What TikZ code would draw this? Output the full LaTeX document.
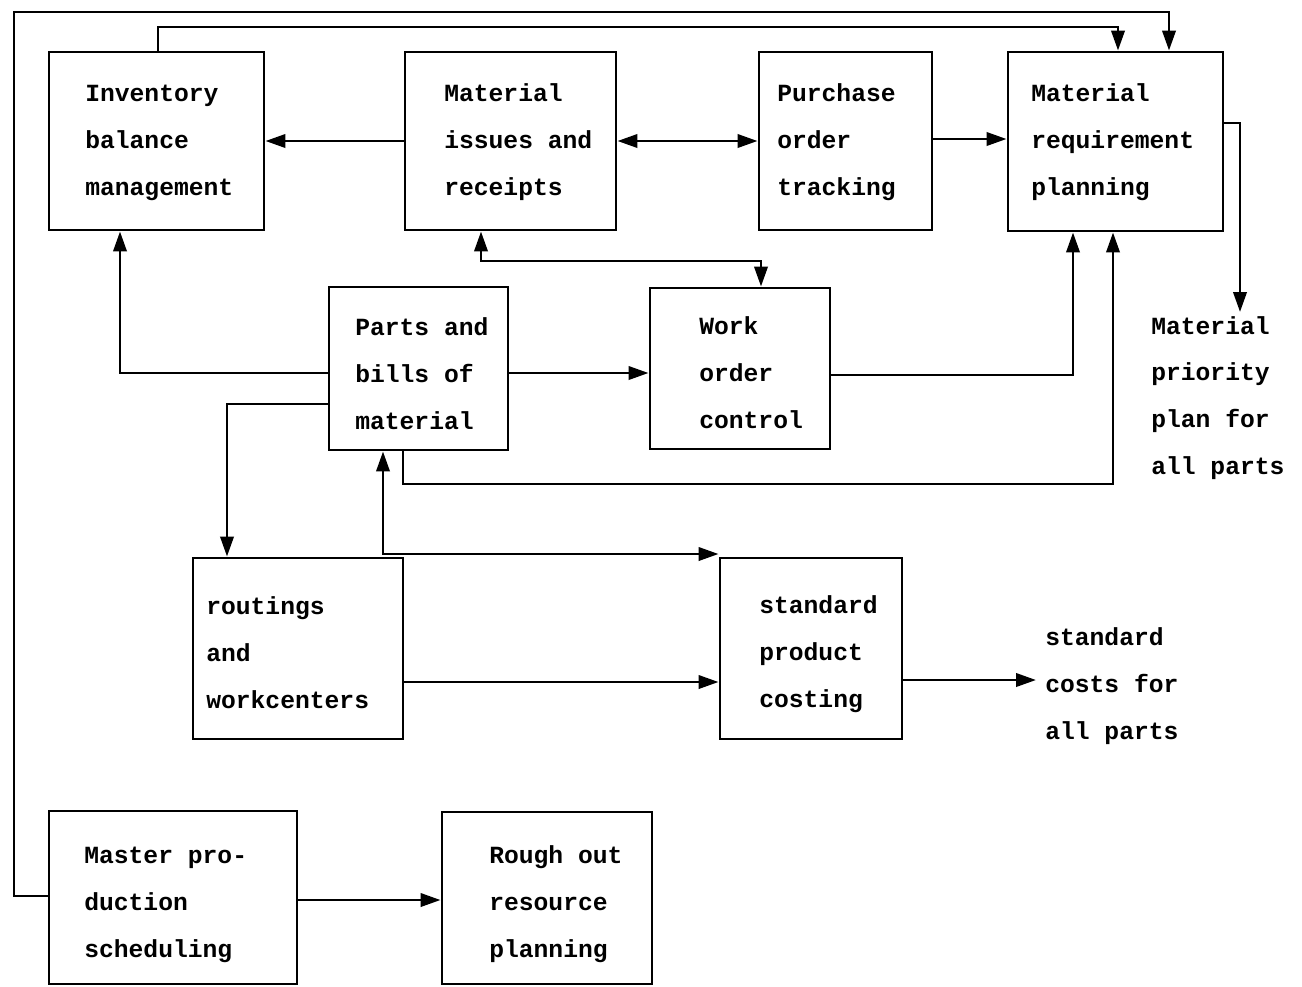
\documentclass[tikz,border=0pt]{standalone}
\usepackage{fontspec}
\setmainfont{Liberation Mono}
\usetikzlibrary{fit,arrows.meta}
\newcommand\boxfont{\bfseries\fontsize{18.5pt}{34.9pt}\selectfont}
\tikzset{
  box/.style={draw, line width=2.2pt, inner sep=0pt, line join=miter},
  lbl/.style={inner sep=0pt, align=left, font=\boxfont, anchor=base west},
  tip/.tip={Triangle[length=15pt,width=10pt]},
  link/.style={line width=2.1pt, line join=miter, -tip},
  dlink/.style={line width=2.1pt, line join=miter, tip-tip},
}
\begin{document}
\begin{tikzpicture}[x=0.75pt,y=-0.75pt]
\useasboundingbox (0,0) rectangle (1302,986);

% boxes
\node[box, fit={(49,52) (264,230)}]   (inv) {};
\node[box, fit={(405,52) (616,230)}]  (mi)  {};
\node[box, fit={(759,52) (932,230)}]  (po)  {};
\node[box, fit={(1008,52) (1223,231)}] (mrp) {};
\node[box, fit={(329,287) (508,450)}] (pb)  {};
\node[box, fit={(650,288) (830,449)}] (wo)  {};
\node[box, fit={(193,558) (403,739)}] (rw)  {};
\node[box, fit={(720,558) (902,739)}] (sp)  {};
\node[box, fit={(49,811) (297,984)}]  (ms)  {};
\node[box, fit={(442,812) (652,984)}] (ro)  {};

% box texts (placed by the baseline of their last line)
\node[lbl] (inv-t) at (85,195)  {Inventory\\balance\\management};
\node[lbl] (mi-t)  at (444,195) {Material\\issues and\\receipts};
\node[lbl] (po-t)  at (777,195) {Purchase\\order\\tracking};
\node[lbl] (mrp-t) at (1031,195){Material\\requirement\\planning};
\node[lbl] (pb-t)  at (355,429) {Parts and\\bills of\\material};
\node[lbl] (wo-t)  at (699,428) {Work\\order\\control};
\node[lbl] (rw-t)  at (206,708) {routings\\and\\workcenters};
\node[lbl] (sp-t)  at (759,707) {standard\\product\\costing};
\node[lbl] (ms-t)  at (84,957)  {Master pro-\\duction\\scheduling};
\node[lbl] (ro-t)  at (489,957) {Rough out\\resource\\planning};

% outputs
\node[lbl] (mpp) at (1151,474) {Material\\priority\\plan for\\all parts};
\node[lbl] (sc)  at (1045,739) {standard\\costs for\\all parts};
\coordinate (mpp-in) at (1240,312);
\coordinate (sc-in)  at (1036,680);

% top row
\draw[link]  (mi.west) -- (inv.east);
\draw[dlink] (mi.east) -- (po.west);
\draw[link]  (po.east |- 0,139) -- (mrp.west |- 0,139);
\draw[link]  (mrp.east |- 0,123) -| (mpp-in);

% feedback lines along the top
\draw[link] (ms.west |- 0,896) -- (14,896) -- (14,12) -| (1169,0 |- mrp.north);
\draw[link] (158,0 |- inv.north) |- (1118,27) -- (1118,0 |- mrp.north);

% parts and bills of material
\draw[link]  (pb.west |- 0,373) -| (120,0 |- inv.south);
\draw[link]  (pb.west |- 0,404) -| (227,0 |- rw.north);
\draw[link]  (pb.east |- 0,373) -- (wo.west |- 0,373);
\draw[link]  (403,0 |- pb.south) |- (1113,484) -- (1113,0 |- mrp.south);
\draw[dlink] (383,0 |- pb.south) |- (sp.west |- 0,554);

% work order control
\draw[dlink] (481,0 |- mi.south) |- (761,261) -- (761,0 |- wo.north);
\draw[link]  (wo.east |- 0,375) -| (1073,0 |- mrp.south);

% costing
\draw[link] (rw.east |- 0,682) -- (sp.west |- 0,682);
\draw[link] (sp.east |- 0,680) -- (sc-in);

% scheduling
\draw[link] (ms.east |- 0,900) -- (ro.west |- 0,900);
\end{tikzpicture}
\end{document}
